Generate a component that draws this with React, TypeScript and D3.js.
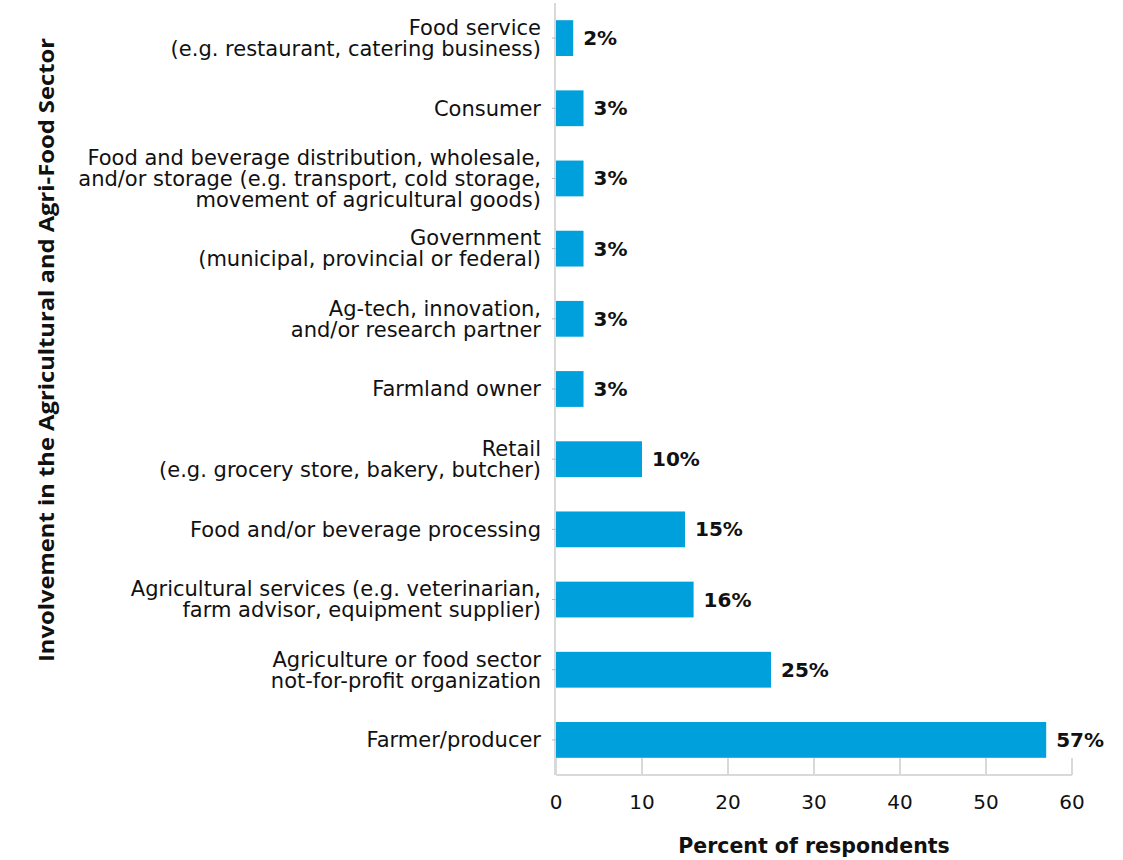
import React, { useEffect, useRef } from 'react';
import * as d3 from 'd3';

const categories = [
  'Food service\n(e.g. restaurant, catering business)',
  'Consumer',
  'Food and beverage distribution, wholesale,\nand/or storage (e.g. transport, cold storage,\nmovement of agricultural goods)',
  'Government\n(municipal, provincial or federal)',
  'Ag-tech, innovation,\nand/or research partner',
  'Farmland owner',
  'Retail\n(e.g. grocery store, bakery, butcher)',
  'Food and/or beverage processing',
  'Agricultural services (e.g. veterinarian,\nfarm advisor, equipment supplier)',
  'Agriculture or food sector\nnot-for-profit organization',
  'Farmer/producer',
];
const values = [2, 3.2, 3.2, 3.2, 3.2, 3.2, 10, 15, 16, 25, 57];
const valueLabels = ['2%', '3%', '3%', '3%', '3%', '3%', '10%', '15%', '16%', '25%', '57%'];
const xTicks = [0, 10, 20, 30, 40, 50, 60];

const App: React.FC = () => {
  const svgRef = useRef<SVGSVGElement>(null);

  useEffect(() => {
    if (!svgRef.current) return;
    const width = 1123;
    const height = 860;
    const font = '"DejaVu Sans", "Open Sans", sans-serif';

    const svg = d3.select(svgRef.current)
      .attr('width', width)
      .attr('height', height)
      .html('');

    const x = d3.scaleLinear().domain([0, 60]).range([556, 1072]);
    const y = d3.scaleBand().domain(categories).range([3, 775]).paddingInner(0.49).paddingOuter(0.245);

    // short gridline ticks rising from the bottom axis
    svg.selectAll('.xtick')
      .data(xTicks)
      .enter().append('line')
      .attr('x1', d => x(d)).attr('x2', d => x(d))
      .attr('y1', 758).attr('y2', 775)
      .style('stroke', '#d9d9d9').style('stroke-width', 2);

    // axis lines
    svg.append('line')
      .attr('x1', x(0)).attr('x2', x(60))
      .attr('y1', 775).attr('y2', 775)
      .style('stroke', '#d9d9d9').style('stroke-width', 2);
    svg.append('line')
      .attr('x1', x(0) - 1).attr('x2', x(0) - 1)
      .attr('y1', 3).attr('y2', 775)
      .style('stroke', '#d9d9d9').style('stroke-width', 2);

    // small category ticks
    svg.selectAll('.ytick')
      .data(categories)
      .enter().append('line')
      .attr('x1', x(0) - 4).attr('x2', x(0))
      .attr('y1', d => y(d)! + y.bandwidth() / 2)
      .attr('y2', d => y(d)! + y.bandwidth() / 2)
      .style('stroke', '#bbbbbb').style('stroke-width', 1);

    // bars
    svg.selectAll('.bar')
      .data(categories)
      .enter().append('rect')
      .attr('x', x(0))
      .attr('y', d => y(d)!)
      .attr('width', (d, i) => x(values[i]) - x(0))
      .attr('height', y.bandwidth())
      .style('fill', '#00a0dc');

    // value labels
    svg.selectAll('.val')
      .data(categories)
      .enter().append('text')
      .attr('x', (d, i) => x(values[i]) + 10)
      .attr('y', d => y(d)! + y.bandwidth() / 2)
      .attr('dy', '0.35em')
      .style('font-family', font)
      .style('font-weight', 700)
      .style('font-size', '20px')
      .style('fill', '#111')
      .text((d, i) => valueLabels[i]);

    // category labels
    const lineH = 21;
    categories.forEach(c => {
      const lines = c.split('\n');
      const cy = y(c)! + y.bandwidth() / 2;
      const t = svg.append('text')
        .attr('x', 541)
        .attr('text-anchor', 'end')
        .style('font-family', font)
        .style('font-size', '21px')
        .style('fill', '#111');
      lines.forEach((l, k) => {
        t.append('tspan')
          .attr('x', 541)
          .attr('y', cy + (k - (lines.length - 1) / 2) * lineH)
          .attr('dy', '0.35em')
          .text(l);
      });
    });

    // x tick labels
    svg.selectAll('.xlab')
      .data(xTicks)
      .enter().append('text')
      .attr('x', d => x(d))
      .attr('y', 809)
      .attr('text-anchor', 'middle')
      .style('font-family', font)
      .style('font-size', '20px')
      .style('fill', '#111')
      .text(d => d);

    // axis titles
    svg.append('text')
      .attr('x', 814)
      .attr('y', 853)
      .attr('text-anchor', 'middle')
      .style('font-family', font)
      .style('font-weight', 700)
      .style('font-size', '20.5px')
      .style('fill', '#111')
      .text('Percent of respondents');

    svg.append('text')
      .attr('transform', 'translate(54, 350) rotate(-90)')
      .attr('text-anchor', 'middle')
      .attr('textLength', 624)
      .attr('lengthAdjust', 'spacingAndGlyphs')
      .style('font-family', '"Open Sans", sans-serif')
      .style('font-weight', 700)
      .style('font-size', '21px')
      .style('fill', '#111')
      .text('Involvement in the Agricultural and Agri-Food Sector');
  }, []);

  return (
    <div style={{ position: 'absolute', left: 0, top: 0 }}>
      <svg ref={svgRef}></svg>
    </div>
  );
};

export default App;
